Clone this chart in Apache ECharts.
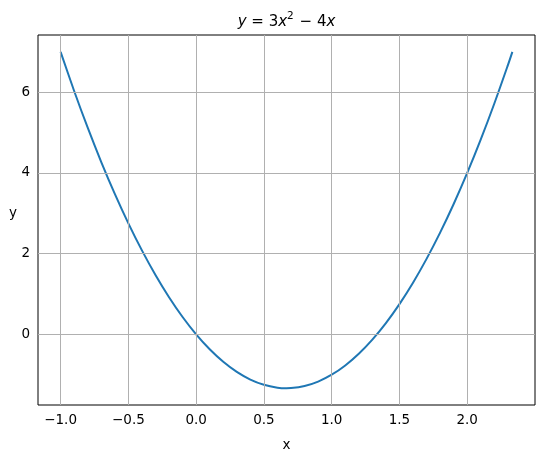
<!DOCTYPE html>
<html><head><meta charset="utf-8">
<script src="https://cdn.jsdelivr.net/npm/echarts@6/dist/echarts.min.js"></script>
<style>html,body{margin:0;padding:0;background:#fff}#c{width:544px;height:458px}</style>
</head><body><div id="c"></div>
<script>
const xValues = [-1.0,-0.9,-0.8,-0.7,-0.6,-0.5,-0.4,-0.3,-0.2,-0.1,0.0,0.1,0.2,0.3,0.4,0.5,0.6,0.667,0.7,0.8,0.9,1.0,1.1,1.2,1.3,1.4,1.5,1.6,1.7,1.8,1.9,2.0,2.1,2.2,2.3,2.333];
const yValues = [7.0,6.03,5.12,4.27,3.48,2.75,2.08,1.47,0.92,0.43,0.0,-0.37,-0.68,-0.93,-1.12,-1.25,-1.32,-1.333,-1.33,-1.28,-1.17,-1.0,-0.77,-0.48,-0.13,0.28,0.75,1.28,1.87,2.52,3.23,4.0,4.83,5.72,6.67,7.0];
const xTicks = [-1.0,-0.5,0.0,0.5,1.0,1.5,2.0];
const yTicks = [0,2,4,6];
const xLabel = 'x';
const yLabel = 'y';

const chart = echarts.init(document.getElementById('c'), null, {renderer:'canvas'});
const font = 'DejaVu Sans';
const fmtX = v => { const s = v.toFixed(1); return s.replace('-', '\u2212'); };
const gridCol = '#b0b0b0';
chart.setOption({
  animation:false,
  backgroundColor:'#fff',
  grid:{left:38,right:9,top:35,bottom:53,show:true,borderColor:'#000',borderWidth:1,backgroundColor:'transparent'},
  xAxis:{type:'value',min:-1.1667,max:2.5,
    axisLine:{show:false},
    axisTick:{show:true,inside:false,length:5,lineStyle:{color:'#000',width:1},customValues:xTicks},
    axisLabel:{customValues:xTicks,formatter:fmtX,color:'#000',fontFamily:font,fontSize:13.5,margin:8},
    splitLine:{show:false},
    name:xLabel,nameLocation:'middle',nameGap:33,nameTextStyle:{color:'#000',fontFamily:font,fontSize:13.5}
  },
  yAxis:{type:'value',min:-1.75,max:7.4167,
    axisLine:{show:false},
    axisTick:{show:true,inside:false,length:5,lineStyle:{color:'#000',width:1},customValues:yTicks},
    axisLabel:{customValues:yTicks,formatter:v=>String(v).replace('-', '\u2212'),color:'#000',fontFamily:font,fontSize:13.5,margin:8},
    splitLine:{show:false}
  },
  graphic:[
   {type:'text',x:13,y:213,style:{text:yLabel,align:'center',verticalAlign:'middle',fontFamily:font,fontSize:13.5,fill:'#000'}},
   {type:'text',x:286.5,y:22,style:{
    text:'{i|y} = 3{i|x}{s|2} \u2212 4{i|x}',
    align:'center',verticalAlign:'middle',
    rich:{
      i:{fontStyle:'italic',fontFamily:font,fontSize:15,fill:'#000'},
      s:{fontFamily:font,fontSize:10.5,padding:[0,1,11,0],fill:'#000'}
    },
    fontFamily:font,fontSize:15,fill:'#000'
  }}],
  series:[
    {type:'line',data:[],silent:true,
      markLine:{symbol:'none',silent:true,label:{show:false},animation:false,
        lineStyle:{color:gridCol,width:1,type:'solid'},
        data:[...xTicks.map(v=>({xAxis:v})),...yTicks.map(v=>({yAxis:v}))]}},
    {type:'line',data:xValues.map((x,i)=>[x,yValues[i]]),showSymbol:false,smooth:0.3,
      lineStyle:{color:'#1f77b4',width:2},itemStyle:{color:'#1f77b4'},z:3}
  ]
});
</script></body></html>
